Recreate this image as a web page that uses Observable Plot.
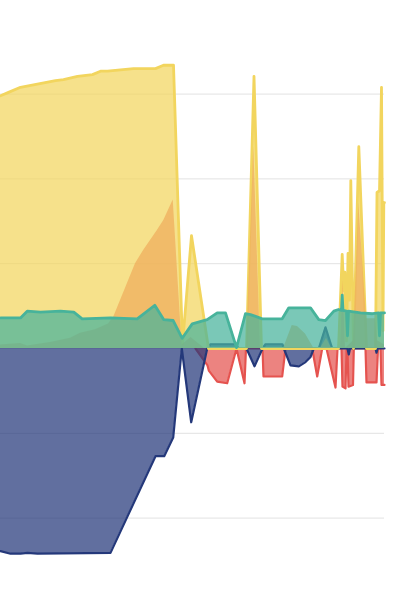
<!DOCTYPE html>
<html><head><meta charset="utf-8">
<script src="https://cdn.jsdelivr.net/npm/d3@7"></script>
<script src="https://cdn.jsdelivr.net/npm/@observablehq/plot@0.6"></script>
<style>html,body{margin:0;padding:0;background:#fff}</style>
</head><body><div id="chart"></div>
<script>
// x: day index, y: value (gridline step = 100)
const gridTicks = [-200, -100, 0, 100, 200, 300];

const yellowX = [0,4,10,27.5,31.5,38.5,46,50,53.5,66.5,77.5,81.5,86.5,91,95.5,104,123,126.75,130.5,169,170.85,171.65,172.15,173,173.75,174.5,175.15,176.5,179.15,183,187.5,188.25,189.5,190.5,191.25,191.65,192];
const yellowY = [298,302,308,316,317,321,323,327,327,330,330,334,334,5,133,0,0,321,0,0,111,68,90,9,112,57,198,0,238,0,0,184,186,308,21,172,172];

const orangeX = [0,10,13.5,25,35,40,47.5,54,56.65,67.5,71.65,78.35,81.65,86.35,90.75,95.25,102,123,126.65,130,141.5,145.85,148.5,152.5,156.5,160,163,165.5,170,171.25,172.5,176.5,179.15,183,187.5,188.5,192];
const orangeY = [4,6,3,7,12,18,22,29,37,100,116,139,151,175,4,13,0,0,238,0,0,27,26,17,1,0,12,0,0,80,0,9,171,35,35,9,4];

const tealX = [0,10,13.35,20,30,36.65,40.85,55,68.35,77.15,81.65,86.35,90.85,95.85,103.35,108.35,112.5,118,122.5,125,130.85,140.85,144.15,155,159.15,162.5,166.65,169,170.5,170.85,171.25,173,173.5,174,180,186,189,189.5,190,192];
const tealY = [36,36,44,43,44,43,35,36,35,51,34,33,12,29,34,42,42,1,41,40,35,35,48,48,34,33,44,46,45,63,45,44,15,44,42,41,42,15,42,42];

const navyX = [0,5,10,13.5,18.5,55,77.5,81.85,86.35,90.65,95.35,103.35,105,117.5,119,123,127,131,132.5,141,141.65,145,149.15,152.5,155,156.65,159.15,162.5,165.85,173.5,174.15,174.75,187.5,188,188.5,192];
const navyY = [-239,-242,-242,-241,-242,-241,-127,-127,-105,0,-87,0,5,5,0,0,-21,0,5,5,0,-20,-21,-16,-10,0,0,25,0,0,-7,0,0,-5,0,0];

const redX = [97.5,103.5,104.15,108.35,113.35,118,122,122.75,131,131.5,140.85,142.5,155.85,158.35,160.85,163,167.5,168.5,170.5,171,172.5,173,173.5,174,176.25,176.65,182.5,183,188,188.75,190,190.5,191.5,192];
const redY = [0,-20,-26,-39,-41,0,-41,0,0,-33,-33,0,0,-33,0,0,-46,0,0,-45,-47,-2,-2,-45,-43,0,0,-40,-40,0,0,-43,-43,-43];

const colors = {yellow:"#f2d55e", orange:"#eeac5c", teal:"#47b39b", navy:"#24387a", red:"#e5534f"};

function series(xs, ys, color, sw) {
  const d = xs.map((x, i) => ({x, y: ys[i]}));
  return [
    Plot.areaY(d, {x: "x", y: "y", fill: color, fillOpacity: 0.72}),
    Plot.lineY(d, {x: "x", y: "y", stroke: color, strokeWidth: sw, strokeLinejoin: "round"})
  ];
}

const zeroY = 348, pxPerUnit = 0.848;
const chart = Plot.plot({
  width: 408,
  height: 589,
  marginLeft: 0, marginRight: 24, marginTop: 0, marginBottom: 0,
  x: {domain: [0, 192], range: [0, 384], axis: null},
  y: {domain: [-300, 400], range: [zeroY + 300 * pxPerUnit, zeroY - 400 * pxPerUnit], axis: null},
  marks: [
    Plot.ruleY(gridTicks, {stroke: "#e2e2e2", strokeWidth: 1}),
    ...series(redX, redY, colors.red, 2.2),
    ...series(navyX, navyY, colors.navy, 2.2),
    ...series(yellowX, yellowY, colors.yellow, 2.8),
    ...series(orangeX, orangeY, colors.orange, 0),
    ...series(tealX, tealY, colors.teal, 2.8)
  ]
});
document.getElementById("chart").appendChild(chart);
</script>
</body></html>
